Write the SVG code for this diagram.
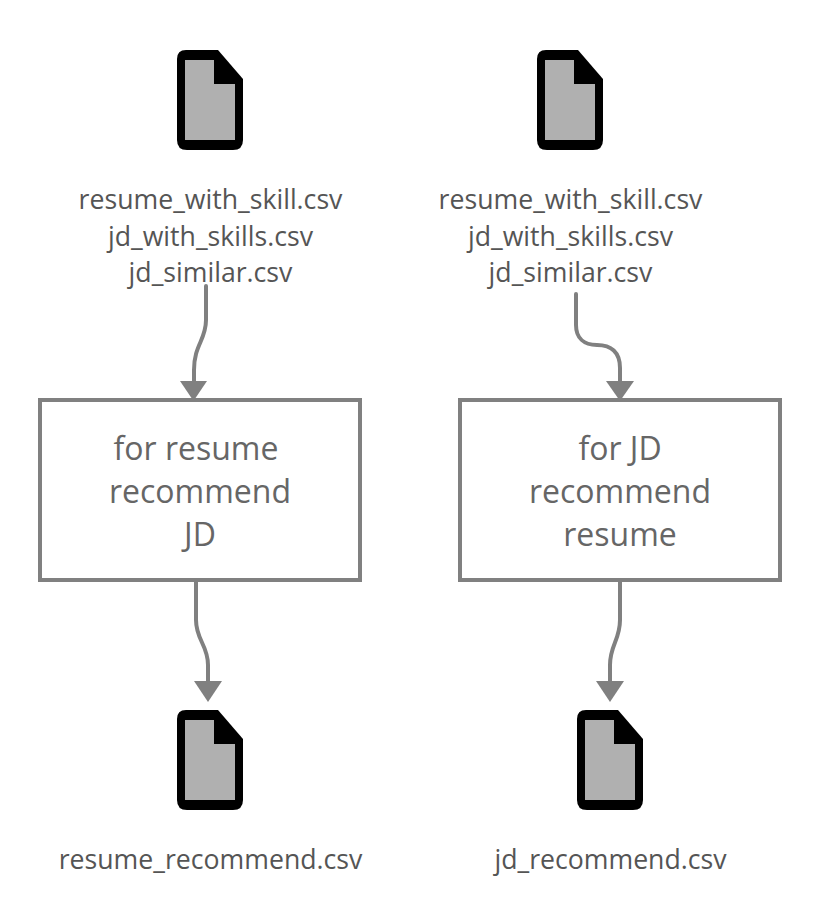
<svg xmlns="http://www.w3.org/2000/svg" width="820" height="917" viewBox="0 0 820 917">
<style>
text{font-family:"Open Sans","Noto Sans","Liberation Sans",sans-serif;text-anchor:middle}
.lbl{font-size:26.670px;fill:#555}
.box{fill:#fff;stroke:#808080;stroke-width:4}
.boxt{font-size:32px;fill:#666}
.edge{fill:none;stroke:#808080;stroke-width:4;stroke-linecap:round}
.head{fill:#808080}
.o{fill:#000}
.i{fill:#b0b0b0}
</style>
<defs>
<g id="doc">
<path class="o" d="M9 0H41L66 29V90Q66 100 56 100H10Q0 100 0 90V9Q0 0 9 0Z"/>
<path class="i" d="M8 10H37V34H58V90H8Z"/>
</g>
</defs>
<rect width="820" height="917" fill="#fff"/>
<g id="connectors">
<path class="edge" d="M206 286V320C206 340 194 345 194 370V382"/>
<polygon class="head" points="180,381 207,381 193.500,401"/>
<path class="edge" d="M576 294V325C576 338 584 345 597 345C611 345 620 352 620 368V382"/>
<polygon class="head" points="606,381 634,381 620,401"/>
<path class="edge" d="M196 577V620C196 640 208 645 208 665V684"/>
<polygon class="head" points="194,681 222,681 208,702"/>
<path class="edge" d="M620 582V620C620 640 610 645 610 665V684"/>
<polygon class="head" points="596,681 624,681 610,702"/>
</g>
<g id="doc1"><use href="#doc" x="177" y="50"/>
<text class="lbl" x="210.500" y="209">resume_with_skill.csv</text>
<text class="lbl" x="210.500" y="246">jd_with_skills.csv</text>
<text class="lbl" x="210.500" y="282">jd_similar.csv</text></g>
<g id="doc2"><use href="#doc" x="537" y="50"/>
<text class="lbl" x="570.500" y="209">resume_with_skill.csv</text>
<text class="lbl" x="570.500" y="246">jd_with_skills.csv</text>
<text class="lbl" x="570.500" y="282">jd_similar.csv</text></g>
<g id="proc1"><rect class="box" x="40" y="400" width="320" height="180"/>
<text class="boxt" x="196" y="460">for resume</text>
<text class="boxt" x="200" y="503">recommend</text>
<text class="boxt" x="200" y="546">JD</text></g>
<g id="proc2"><rect class="box" x="460" y="400" width="320" height="180"/>
<text class="boxt" x="620" y="460">for JD</text>
<text class="boxt" x="620" y="503">recommend</text>
<text class="boxt" x="620" y="546">resume</text></g>
<g id="doc3"><use href="#doc" x="177" y="710"/>
<text class="lbl" x="210.500" y="869">resume_recommend.csv</text></g>
<g id="doc4"><use href="#doc" x="577" y="710"/>
<text class="lbl" x="610.500" y="869">jd_recommend.csv</text></g>
</svg>
